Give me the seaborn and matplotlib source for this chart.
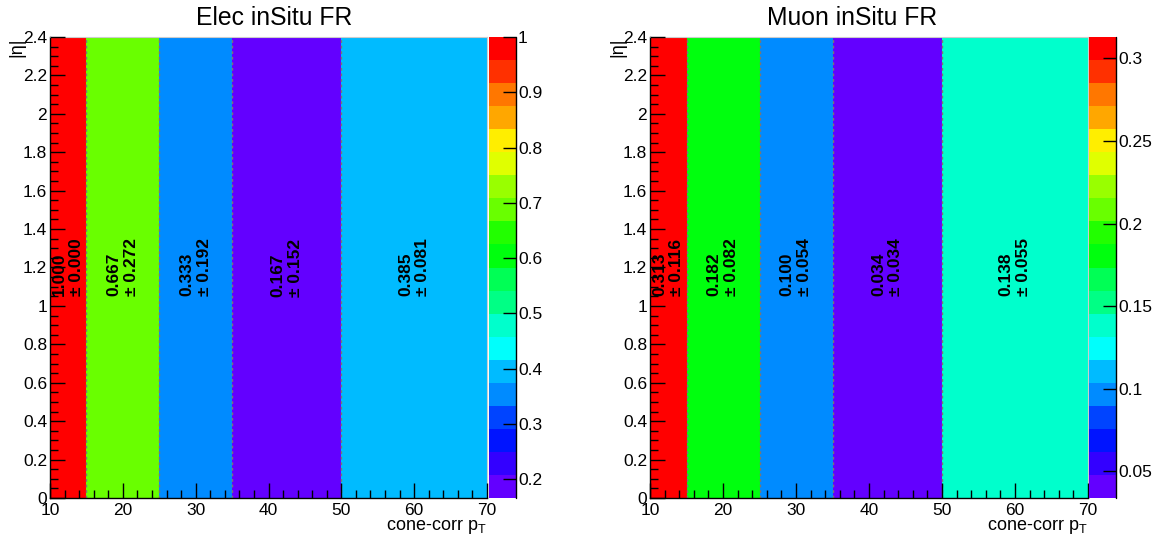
import colorsys
import numpy as np
import matplotlib
matplotlib.use("Agg")
import matplotlib.pyplot as plt
from matplotlib.colors import ListedColormap
from matplotlib.ticker import MultipleLocator, FormatStrFormatter
import seaborn as sns

# ---------------- data ----------------
pt_edges = [10, 15, 25, 35, 50, 70]
eta_edges = [0, 2.4]
elec_fr = [1.000, 0.66667, 0.33333, 0.16667, 0.385]
elec_err = [0.000, 0.272, 0.192, 0.152, 0.081]
muon_fr = [0.313, 0.182, 0.100, 0.034, 0.138]
muon_err = [0.116, 0.082, 0.054, 0.034, 0.055]
titles = ["Elec inSitu FR", "Muon inSitu FR"]
elec_cbar_ticks = [0.2, 0.3, 0.4, 0.5, 0.6, 0.7, 0.8, 0.9, 1.0]
muon_cbar_ticks = [0.05, 0.1, 0.15, 0.2, 0.25, 0.3]
x_label = r"cone-corr p$_\mathregular{T}$"
y_label = "|\u03b7|"

# ---------------- style ----------------
sns.set_theme(style="ticks")
plt.rcParams["font.family"] = ["Liberation Sans", "DejaVu Sans"]
plt.rcParams["mathtext.fontset"] = "custom"
plt.rcParams["mathtext.rm"] = "Liberation Sans"
plt.rcParams["axes.axisbelow"] = False
plt.rcParams["text.color"] = "black"
plt.rcParams["xtick.labelcolor"] = "black"
plt.rcParams["ytick.labelcolor"] = "black"

# ROOT "pretty" palette (50 colours), 20 contour levels
ncont = 20
palette = []
for k in range(ncont):
    i = int((k + 0.99) * 50 / ncont)
    hue = 280 - (i + 1) * 5.6
    palette.append(colorsys.hls_to_rgb(hue / 360.0, 0.5, 1.0))
cmap = ListedColormap(palette)

W, H = 1161, 542
fig = plt.figure(figsize=(W / 100, H / 100), dpi=100)

def fx(px):
    return px / W

def fy(py):
    return 1 - py / H

panels = [
    dict(fr=elec_fr, err=elec_err, title=titles[0], ticks=elec_cbar_ticks,
         ax=(50, 487), cax=(489, 516), title_x=274, ylab_x=17),
    dict(fr=muon_fr, err=muon_err, title=titles[1], ticks=muon_cbar_ticks,
         ax=(650, 1088), cax=(1089, 1116), title_x=852, ylab_x=618),
]
top_px, bot_px = 37, 498

xc = [(pt_edges[i] + pt_edges[i + 1]) / 2 for i in range(len(pt_edges) - 1)]
yc = [(eta_edges[0] + eta_edges[1]) / 2] * len(xc)

for p in panels:
    ax = fig.add_axes([fx(p["ax"][0]), fy(bot_px), fx(p["ax"][1] - p["ax"][0]),
                       (bot_px - top_px) / H])
    cax = fig.add_axes([fx(p["cax"][0]), fy(bot_px), fx(p["cax"][1] - p["cax"][0]),
                        (bot_px - top_px) / H])
    vmin, vmax = min(p["fr"]), max(p["fr"])
    step = (vmax - vmin) / ncont
    sns.histplot(x=xc, y=yc, weights=p["fr"], bins=(pt_edges, eta_edges),
                 cmap=cmap, vmin=vmin - 0.01 * step, vmax=vmax, thresh=None,
                 cbar=True, cbar_ax=cax, ax=ax)
    ax.set_axisbelow(False)
    cax.set_axisbelow(False)
    ax.set_xlim(pt_edges[0], pt_edges[-1])
    ax.set_ylim(eta_edges[0], eta_edges[1])
    ax.set_xlabel("")
    ax.set_ylabel("")
    ax.vlines(pt_edges[1:-1], eta_edges[0], eta_edges[1], colors="#777777",
              linestyles=(0, (2, 2)), lw=1.0)
    for x, v, e in zip(xc, p["fr"], p["err"]):
        ax.text(x, yc[0], f"{v:.3f}\n\u00b1 {e:.3f}", rotation=90, ha="center",
                va="center", multialignment="left", fontsize=12.5,
                fontweight="bold", color="black", linespacing=1.2)
    ax.xaxis.set_major_locator(MultipleLocator(10))
    ax.xaxis.set_minor_locator(MultipleLocator(2))
    ax.yaxis.set_major_locator(MultipleLocator(0.2))
    ax.yaxis.set_minor_locator(MultipleLocator(0.05))
    ax.yaxis.set_major_formatter(FormatStrFormatter("%g"))
    ax.tick_params(which="both", direction="in", top=False, right=False,
                   labelsize=12.5, color="black", labelcolor="black")
    ax.tick_params(axis="x", which="major", length=10.5, width=1, pad=3.5)
    ax.tick_params(axis="y", which="major", length=10.5, width=1, pad=2)
    ax.tick_params(which="minor", length=5.5, width=1)
    for s in ["left", "bottom"]:
        ax.spines[s].set_color("black")
        ax.spines[s].set_linewidth(1.0)
    for s in ["top", "right"]:
        ax.spines[s].set_color("#cccccc")
        ax.spines[s].set_linewidth(0.8)

    cb = ax.collections[0].colorbar
    cb.outline.set_visible(False)
    cb.set_ticks(p["ticks"])
    cb.ax.yaxis.set_major_formatter(FormatStrFormatter("%g"))
    cb.ax.minorticks_off()
    cb.ax.tick_params(direction="in", length=9.5, width=1, labelsize=12.5,
                      pad=1.5, color="black", labelcolor="black")
    cb.ax.plot([1, 1], [0, 1], transform=cb.ax.transAxes, color="black",
               lw=1.0, clip_on=False)

    fig.text(fx(p["title_x"]), fy(25), p["title"], ha="center", va="baseline",
             fontsize=17.8, color="black")
    fig.text(fx(p["ax"][1]), fy(530), x_label, ha="right", va="baseline",
             fontsize=13, color="black")
    fig.text(fx(p["ylab_x"]), fy(38), y_label, rotation=90, ha="center",
             va="top", fontsize=13, color="black")

fig.savefig("out.png", dpi=100)
